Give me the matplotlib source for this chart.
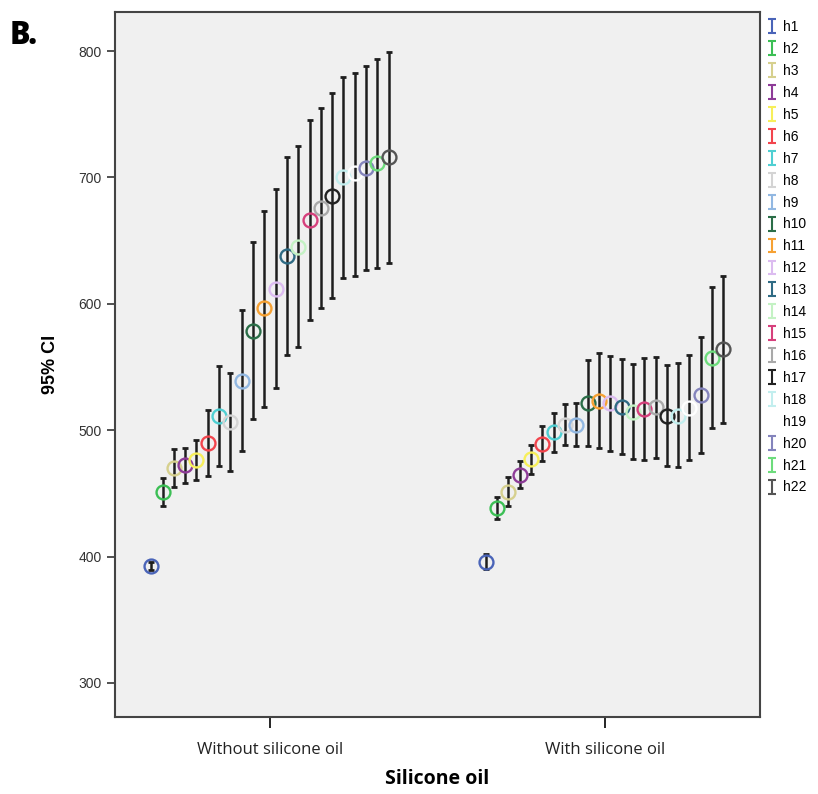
import numpy as np
import matplotlib
matplotlib.use('Agg')
import matplotlib.pyplot as plt

# groups on the x axis
groups = ['Without silicone oil', 'With silicone oil']
labels = ['h%d' % i for i in range(1, 23)]
colors = ['#4a64b8', '#3cbf55', '#d6d08e', '#8e3c98', '#f7ef5a', '#f2454d',
          '#4fcfd2', '#d4d4d4', '#92b8e2', '#2b6e48', '#f6a133', '#dcbcf0',
          '#2f6b84', '#c4f2c4', '#d6407c', '#a9a9a9', '#222222', '#c2eeee',
          '#ffffff', '#8484bc', '#6ddc7c', '#555555']

# mean and 95% CI, without silicone oil
mean_wo = [392.6, 451.4, 470.3, 472.2, 476.2, 489.6, 511.2, 506.2, 539.2, 578.8, 596.4,
           612.0, 637.8, 645.2, 666.3, 675.6, 685.3, 700.3, 703.2, 707.2, 711.2, 715.9]
lo_wo = [389.5, 440.0, 455.3, 458.5, 460.4, 463.8, 472.0, 468.0, 483.8, 509.2, 518.6,
         533.4, 559.5, 566.1, 587.0, 596.7, 604.4, 620.7, 622.0, 626.5, 628.6, 632.0]
hi_wo = [395.7, 462.4, 485.1, 485.7, 492.0, 515.8, 550.5, 545.0, 595.0, 648.9, 673.7,
         690.6, 716.4, 724.8, 745.7, 754.9, 766.5, 779.4, 782.9, 788.1, 793.4, 799.5]

# mean and 95% CI, with silicone oil
mean_w = [396.0, 438.2, 451.4, 464.3, 477.2, 489.1, 498.3, 504.1, 504.1, 521.3, 523.1,
          521.3, 518.6, 514.4, 516.8, 518.1, 511.5, 511.5, 517.6, 527.6, 557.1, 564.0]
lo_w = [390.4, 429.7, 440.0, 454.1, 465.6, 475.2, 482.8, 488.0, 487.5, 487.3, 485.9,
        483.8, 481.0, 477.2, 476.7, 478.3, 471.7, 470.6, 476.4, 481.7, 501.5, 505.4]
hi_w = [401.8, 447.4, 463.3, 475.2, 488.6, 503.3, 513.8, 520.5, 521.8, 555.3, 560.8,
        558.7, 556.1, 552.1, 557.1, 558.2, 551.8, 553.4, 559.3, 573.7, 613.0, 622.0]

plt.rcParams['font.family'] = ['Liberation Sans', 'DejaVu Sans']

fig = plt.figure(figsize=(8.18, 7.94), dpi=100)
ax = fig.add_axes([0.1406, 0.097, 0.788, 0.888])
ax.set_facecolor('#f0f0f0')

n = len(labels)
step = 0.0338
offs = (np.arange(n) - (n - 1) / 2.0) * step

for g, (m, lo, hi) in enumerate([(mean_wo, lo_wo, hi_wo), (mean_w, lo_w, hi_w)]):
    m = np.array(m); lo = np.array(lo); hi = np.array(hi)
    xs = g + offs
    ax.errorbar(xs, m, yerr=[m - lo, hi - m], fmt='none', ecolor='#1e1e1e',
                elinewidth=1.8, capsize=2.5, capthick=2.0, zorder=2)
    for i in range(n):
        ax.plot(xs[i], m[i], 'o', ms=10, mfc='none', mec=colors[i], mew=1.7, zorder=3)

# legend proxies
handles = []
for i in range(n):
    h = ax.errorbar([np.nan], [np.nan], yerr=[1], fmt='none', ecolor=colors[i],
                    elinewidth=1.5, capsize=3, capthick=1.5, label=labels[i])
    handles.append(h)
leg = fig.legend(handles=handles, labels=labels, loc='upper left',
                 bbox_to_anchor=(0.935, 0.978), frameon=False, fontsize=10,
                 handlelength=0.6, handletextpad=0.5, labelspacing=0.57,
                 borderaxespad=0, borderpad=0.2)

ax.set_xlim(-0.463, 1.463)
ax.set_ylim(273, 831)
ax.set_yticks([300, 400, 500, 600, 700, 800])
ax.set_xticks([0, 1])
ax.set_xticklabels(groups, fontsize=12, family='Open Sans', color='#222222')
ax.tick_params(axis='y', labelsize=10, colors='#333333', length=6, width=1.2)
ax.tick_params(axis='x', length=8, width=1.2, pad=10)
for s in ax.spines.values():
    s.set_color('#444444')
    s.set_linewidth(1.5)

ax.set_ylabel('95% CI', fontsize=13, fontweight='bold', labelpad=14)
ax.set_xlabel('Silicone oil', fontsize=14, fontweight='bold', family='Open Sans', labelpad=8)

fig.text(0.012, 0.945, 'B.', fontsize=22, fontweight='heavy', family='Open Sans')

fig.savefig('out.png', dpi=100)
